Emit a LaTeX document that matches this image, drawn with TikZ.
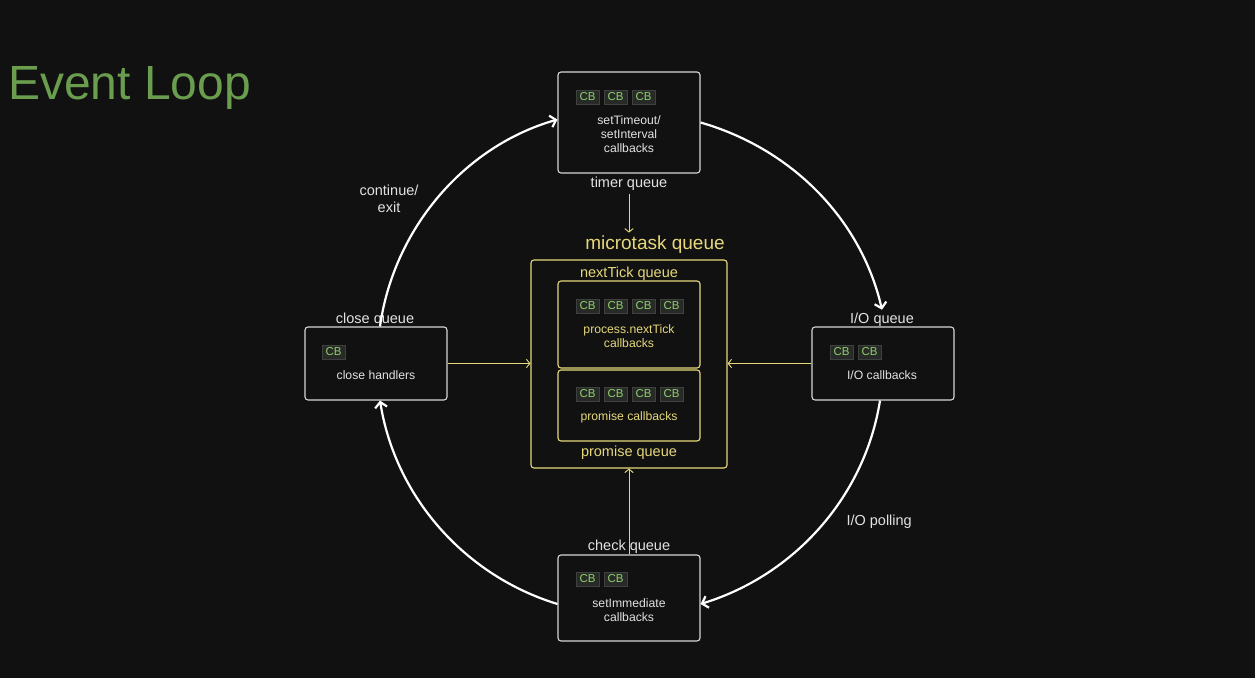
\documentclass[tikz,border=0pt]{standalone}
\usepackage{fontspec}
\setmainfont{Liberation Sans}
\usetikzlibrary{arrows.meta}
\definecolor{bg}{HTML}{111111}
\definecolor{ttl}{HTML}{6A9E4E}
\definecolor{ylw}{HTML}{E6D87A}
\definecolor{cbg}{HTML}{8FD06C}
\definecolor{chipfill}{HTML}{272A27}
\definecolor{chipdraw}{HTML}{3E413E}
\definecolor{wline}{HTML}{D6D6D6}
\definecolor{wtxt}{HTML}{E2E2E2}
\begin{document}
\begin{tikzpicture}[x=1pt,y=1pt,
 wbox/.style={draw=wline, line width=1.1pt, rounded corners=3pt, fill=bg, minimum width=142pt, inner sep=0pt},
 ybox/.style={draw=ylw, line width=1.1pt, rounded corners=3pt, inner sep=0pt},
 chip/.style={draw=chipdraw, fill=chipfill, text=cbg, minimum width=23pt, minimum height=14pt, inner sep=0pt, font=\fontsize{11.5}{13}\selectfont},
 btext/.style={text=wtxt, align=center, font=\fontsize{12.2}{14}\selectfont},
 ytext/.style={text=ylw, align=center, font=\fontsize{12.2}{14}\selectfont},
 lbl/.style={text=wtxt, align=center, font=\fontsize{14.5}{17}\selectfont},
 ylbl/.style={text=ylw, font=\fontsize{14.5}{17}\selectfont},
 loopline/.style={draw=white, line width=2.2pt, -{Straight Barb[length=5.5pt,width=12pt]}, looseness=0.92},
 yarrow/.style={draw=ylw, line width=0.9pt, -{Straight Barb[length=3.5pt,width=8.5pt]}},
]
\path[fill=bg] (0,0) rectangle (1255,678);

\node[anchor=base west, text=ttl, font=\fontsize{48}{56}\selectfont, inner sep=0pt] (title) at (8,578) {Event Loop};

% boxes
\node[wbox, minimum height=101pt] (timer) at (629,555.5) {};
\node[wbox, minimum height=73pt] (close) at (376,314.5) {};
\node[wbox, minimum height=73pt] (io) at (883,314.5) {};
\node[wbox, minimum height=86pt] (check) at (629,80) {};
\node[ybox, minimum width=196pt, minimum height=208pt] (mt) at (629,314) {};
\node[ybox, minimum width=142pt, minimum height=87pt] (nt) at (629,353.5) {};
\node[ybox, minimum width=142pt, minimum height=71pt] (pr) at (629,272.5) {};

% chips
\node[chip] (t1) at (587.5,581) {CB};
\node[chip] (t2) at (615.5,581) {CB};
\node[chip] (t3) at (643.5,581) {CB};
\node[chip] (n1) at (587.5,372) {CB};
\node[chip] (n2) at (615.5,372) {CB};
\node[chip] (n3) at (643.5,372) {CB};
\node[chip] (n4) at (671.5,372) {CB};
\node[chip] (p1) at (587.5,284) {CB};
\node[chip] (p2) at (615.5,284) {CB};
\node[chip] (p3) at (643.5,284) {CB};
\node[chip] (p4) at (671.5,284) {CB};
\node[chip] (c1) at (333.5,326) {CB};
\node[chip] (i1) at (841.5,326) {CB};
\node[chip] (i2) at (869.5,326) {CB};
\node[chip] (k1) at (587.5,99) {CB};
\node[chip] (k2) at (615.5,99) {CB};

% box texts
\node[btext] (tt) at (629,544) {setTimeout/\\setInterval\\callbacks};
\node[ytext] (ntt) at (629,342) {process.nextTick\\callbacks};
\node[ytext] (prt) at (629,261) {promise callbacks};
\node[btext] (ct) at (376,303) {close handlers};
\node[btext] (iot) at (882,303) {I/O callbacks};
\node[btext] (kt) at (629,68) {setImmediate\\callbacks};

% labels
\node[lbl] (tl) at (629,494) {timer queue};
\node[ylbl, font=\fontsize{19}{22}\selectfont] (ml) at (655,433) {microtask queue};
\node[ylbl] (ntl) at (629,404) {nextTick queue};
\node[ylbl] (prl) at (629,225) {promise queue};
\node[lbl] (cl) at (375,358) {close queue};
\node[lbl] (iol) at (882,358) {I/O queue};
\node[lbl] (cont) at (389,479.5) {continue/\\exit};
\node[lbl, anchor=west] (poll) at (843,156) {I/O polling};

% yellow arrows
\draw[yarrow] (tl.south) -- (tl.south |- ml.north);
\draw[yarrow] (close.east) -- (close.east -| mt.west);
\draw[yarrow] (io.west) -- (io.west -| mt.east);
\draw[yarrow] (check.north) -- (mt.south);
\node[lbl] (kl) at (629,131) {check queue};

% loop arcs
\draw[loopline] ([xshift=4pt]close.north) to[out=82,in=196] ([yshift=3pt]timer.west);
\draw[loopline] (timer.east) to[out=-16,in=103] (iol.north);
\draw[loopline] ([xshift=-3pt]io.south) to[out=261,in=17] ([yshift=-6pt]check.east);
\draw[loopline] ([yshift=-6pt]check.west) to[out=163,in=279] ([xshift=4pt]close.south);
\end{tikzpicture}
\end{document}
